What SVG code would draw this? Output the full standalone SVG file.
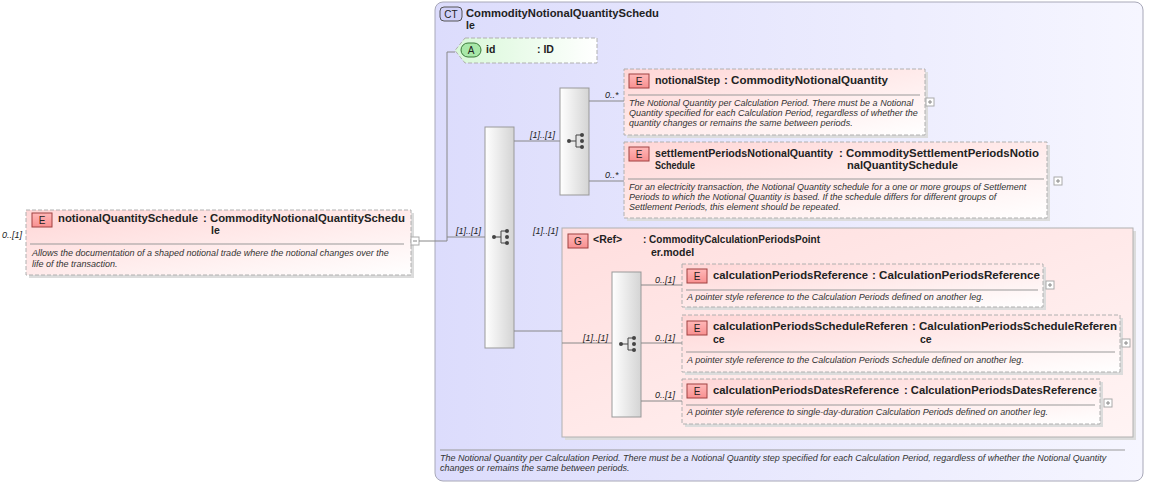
<svg xmlns="http://www.w3.org/2000/svg" width="1149" height="483" viewBox="0 0 1149 483">
<defs>
<linearGradient id="gE" x1="0" y1="0" x2="1" y2="1"><stop offset="0" stop-color="#ffd6d6"/><stop offset="1" stop-color="#ffffff"/></linearGradient>
<linearGradient id="gCT" x1="0" y1="0" x2="1" y2="0"><stop offset="0" stop-color="#dcdcfc"/><stop offset="1" stop-color="#f6f6ff"/></linearGradient>
<linearGradient id="gG" x1="0" y1="0" x2="1" y2="1"><stop offset="0" stop-color="#ffdede"/><stop offset="1" stop-color="#fff4f4"/></linearGradient>
<linearGradient id="gA" x1="0" y1="0" x2="1" y2="0"><stop offset="0" stop-color="#d8f8d8"/><stop offset="1" stop-color="#ffffff"/></linearGradient>
<linearGradient id="gS" x1="0" y1="0" x2="1" y2="0"><stop offset="0" stop-color="#ffffff"/><stop offset="1" stop-color="#d4d4d4"/></linearGradient>
<linearGradient id="gB" x1="0" y1="0" x2="0" y2="1"><stop offset="0" stop-color="#ffb8b8"/><stop offset="1" stop-color="#f89090"/></linearGradient>
<g id="seqIcon"><line x1="-7" y1="0" x2="0" y2="0" stroke="#444"/><line x1="0" y1="-6" x2="0" y2="6" stroke="#444"/><line x1="0" y1="-6" x2="5" y2="-6" stroke="#444"/><line x1="0" y1="6" x2="5" y2="6" stroke="#444"/><circle cx="-7" cy="0" r="2" fill="#444"/><circle cx="6" cy="-6" r="2" fill="#444"/><circle cx="6" cy="0" r="2" fill="#444"/><circle cx="6" cy="6" r="2" fill="#444"/></g>
<g id="plus"><rect x="0" y="0" width="8" height="8" fill="#fff" stroke="#aaa"/><line x1="2" y1="4" x2="6" y2="4" stroke="#888"/><line x1="4" y1="2" x2="4" y2="6" stroke="#888"/></g>
</defs>
<style>
.el{fill:url(#gE);stroke:#b0b0b0;stroke-dasharray:4,2;}
.sh{fill:#dcdcdc;}
.n{font-family:"Liberation Sans",Arial,sans-serif;font-size:10.5px;font-weight:bold;fill:#222;}
.d{font-family:"Liberation Sans",Arial,sans-serif;font-size:9px;font-style:italic;fill:#333;}
.m{font-family:"Liberation Sans",Arial,sans-serif;font-size:9px;font-style:italic;fill:#222;}
.bd{fill:url(#gB);stroke:#a04040;}
.bt{font-family:"Liberation Sans",Arial,sans-serif;font-size:10px;fill:#222;text-anchor:middle;}
.sep{stroke:#999;}
.seq{fill:url(#gS);stroke:#999;}
.c{stroke:#888;fill:none;}
</style>

<g id="ct">
<rect x="435" y="2" width="708" height="479" rx="8" fill="url(#gCT)" stroke="#a8a8b8"/>
<rect x="440" y="7" width="22" height="14" rx="4" fill="#d0d0f8" stroke="#555"/>
<text x="451" y="18" class="bt">CT</text>
<text x="466" y="17" class="n" textLength="193" lengthAdjust="spacingAndGlyphs">CommodityNotionalQuantitySchedu</text>
<text x="466" y="29" class="n">le</text>
<line x1="440" y1="450" x2="1125" y2="450" class="sep"/>
<text x="440" y="461" class="d">The Notional Quantity per Calculation Period. There must be a Notional Quantity step specified for each Calculation Period, regardless of whether the Notional Quantity</text>
<text x="440" y="471" class="d">changes or remains the same between periods.</text>
</g>

<g id="main">
<rect x="29" y="213" width="385" height="65" class="sh"/>
<rect x="26" y="210" width="385" height="65" class="el"/>
<rect x="32" y="213" width="20" height="14" class="bd"/><text x="42" y="224" class="bt">E</text>
<text x="58" y="222" class="n" textLength="140" lengthAdjust="spacingAndGlyphs">notionalQuantitySchedule</text>
<text x="203" y="222" class="n" textLength="202" lengthAdjust="spacingAndGlyphs">: CommodityNotionalQuantitySchedu</text>
<text x="211" y="234" class="n">le</text>
<line x1="30" y1="244" x2="404" y2="244" class="sep"/>
<text x="32" y="256" class="d">Allows the documentation of a shaped notional trade where the notional changes over the</text>
<text x="32" y="267" class="d">life of the transaction.</text>
<rect x="411" y="237" width="8" height="8" fill="#fff" stroke="#aaa"/><line x1="413" y1="241" x2="417" y2="241" stroke="#888"/>
</g>

<g id="attr-id">
<path d="M465,38 H597 V63 H465 L455,50.5 Z" fill="url(#gA)" stroke="#b0b0b0" stroke-dasharray="4,2"/>
<rect x="461" y="43" width="20" height="14" rx="7" fill="#a8e8a8" stroke="#3a7a3a"/><text x="471" y="54" class="bt">A</text>
<text x="486" y="53" class="n">id</text>
<text x="537" y="53" class="n">: ID</text>
</g>

<g id="seq1"><rect x="485" y="127" width="29" height="221" class="seq"/><use href="#seqIcon" x="501" y="237"/></g>
<g id="seq2"><rect x="560" y="88" width="29" height="107" class="seq"/><use href="#seqIcon" x="576" y="141"/></g>

<g id="notionalStep">
<rect x="627" y="72" width="301" height="66" class="sh"/>
<rect x="624" y="69" width="301" height="66" class="el"/>
<rect x="629" y="74" width="20" height="14" class="bd"/><text x="639" y="85" class="bt">E</text>
<text x="655" y="84" class="n" textLength="65" lengthAdjust="spacingAndGlyphs">notionalStep</text>
<text x="724" y="84" class="n" textLength="164" lengthAdjust="spacingAndGlyphs">: CommodityNotionalQuantity</text>
<line x1="628" y1="95" x2="920" y2="95" class="sep"/>
<text x="629" y="106" class="d">The Notional Quantity per Calculation Period. There must be a Notional</text>
<text x="629" y="116" class="d">Quantity specified for each Calculation Period, regardless of whether the</text>
<text x="629" y="126" class="d">quantity changes or remains the same between periods.</text>
<use href="#plus" x="926" y="98"/>
</g>

<g id="settlement">
<rect x="627" y="145" width="423" height="76" class="sh"/>
<rect x="624" y="142" width="423" height="76" class="el"/>
<rect x="629" y="147" width="20" height="14" class="bd"/><text x="639" y="158" class="bt">E</text>
<text x="655" y="157" class="n" textLength="178" lengthAdjust="spacingAndGlyphs">settlementPeriodsNotionalQuantity</text>
<text x="655" y="169" class="n" textLength="40" lengthAdjust="spacingAndGlyphs">Schedule</text>
<text x="839" y="157" class="n" textLength="200" lengthAdjust="spacingAndGlyphs">: CommoditySettlementPeriodsNotio</text>
<text x="847" y="169" class="n" textLength="111" lengthAdjust="spacingAndGlyphs">nalQuantitySchedule</text>
<line x1="628" y1="179" x2="1044" y2="179" class="sep"/>
<text x="629" y="190" class="d">For an electricity transaction, the Notional Quantity schedule for a one or more groups of Settlement</text>
<text x="629" y="200" class="d">Periods to which the Notional Quantity is based. If the schedule differs for different groups of</text>
<text x="629" y="210" class="d">Settlement Periods, this element should be repeated.</text>
<use href="#plus" x="1054" y="177"/>
</g>

<g id="group">
<rect x="565" y="231" width="571" height="209" class="sh"/>
<rect x="562" y="228" width="571" height="209" fill="url(#gG)" stroke="#b0b0b0"/>
<rect x="568" y="234" width="20" height="14" class="bd"/><text x="578" y="245" class="bt">G</text>
<text x="593" y="243" class="n">&lt;Ref&gt;</text>
<text x="643" y="243" class="n" textLength="177" lengthAdjust="spacingAndGlyphs">: CommodityCalculationPeriodsPoint</text>
<text x="651" y="256" class="n">er.model</text>
</g>

<g id="seq3"><rect x="612" y="272" width="29" height="145" class="seq"/><use href="#seqIcon" x="628" y="344"/></g>

<g id="calcRef">
<rect x="685" y="267" width="361" height="43" class="sh"/>
<rect x="682" y="264" width="361" height="43" class="el"/>
<rect x="687" y="269" width="20" height="14" class="bd"/><text x="697" y="280" class="bt">E</text>
<text x="713" y="279" class="n" textLength="155" lengthAdjust="spacingAndGlyphs">calculationPeriodsReference</text>
<text x="872" y="279" class="n" textLength="168" lengthAdjust="spacingAndGlyphs">: CalculationPeriodsReference</text>
<line x1="686" y1="290" x2="1038" y2="290" class="sep"/>
<text x="687" y="300" class="d">A pointer style reference to the Calculation Periods defined on another leg.</text>
<use href="#plus" x="1046" y="281"/>
</g>

<g id="calcSched">
<rect x="685" y="318" width="438" height="57" class="sh"/>
<rect x="682" y="315" width="438" height="57" class="el"/>
<rect x="687" y="321" width="20" height="14" class="bd"/><text x="697" y="332" class="bt">E</text>
<text x="713" y="330" class="n" textLength="195" lengthAdjust="spacingAndGlyphs">calculationPeriodsScheduleReferen</text>
<text x="713" y="343" class="n">ce</text>
<text x="912" y="330" class="n" textLength="205" lengthAdjust="spacingAndGlyphs">: CalculationPeriodsScheduleReferen</text>
<text x="920" y="343" class="n">ce</text>
<line x1="686" y1="352" x2="1115" y2="352" class="sep"/>
<text x="687" y="363" class="d">A pointer style reference to the Calculation Periods Schedule defined on another leg.</text>
<use href="#plus" x="1122" y="339"/>
</g>

<g id="calcDates">
<rect x="685" y="382" width="418" height="45" class="sh"/>
<rect x="682" y="379" width="418" height="45" class="el"/>
<rect x="687" y="384" width="20" height="14" class="bd"/><text x="697" y="395" class="bt">E</text>
<text x="713" y="394" class="n" textLength="186" lengthAdjust="spacingAndGlyphs">calculationPeriodsDatesReference</text>
<text x="904" y="394" class="n" textLength="193" lengthAdjust="spacingAndGlyphs">: CalculationPeriodsDatesReference</text>
<line x1="686" y1="405" x2="1095" y2="405" class="sep"/>
<text x="687" y="415" class="d">A pointer style reference to single-day-duration Calculation Periods defined on another leg.</text>
<use href="#plus" x="1104" y="399"/>
</g>

<g id="connectors">
<polyline class="c" points="419,241 447,241 447,52 455,52"/>
<line class="c" x1="447" y1="237" x2="485" y2="237"/>
<line class="c" x1="514" y1="141" x2="560" y2="141"/>
<line class="c" x1="589" y1="101" x2="624" y2="101"/>
<line class="c" x1="589" y1="181" x2="624" y2="181"/>
<line class="c" x1="514" y1="331" x2="562" y2="331"/>
<line class="c" x1="562" y1="343" x2="612" y2="343"/>
<line class="c" x1="641" y1="285" x2="682" y2="285"/>
<line class="c" x1="641" y1="343" x2="682" y2="343"/>
<line class="c" x1="641" y1="401" x2="682" y2="401"/>
<text x="2" y="238" class="m">0..[1]</text>
<text x="456" y="234" class="m">[1]..[1]</text>
<text x="530" y="138" class="m">[1]..[1]</text>
<text x="605" y="98" class="m">0..*</text>
<text x="605" y="178" class="m">0..*</text>
<text x="533" y="234" class="m">[1]..[1]</text>
<text x="583" y="341" class="m">[1]..[1]</text>
<text x="655" y="283" class="m">0..[1]</text>
<text x="655" y="341" class="m">0..[1]</text>
<text x="655" y="398" class="m">0..[1]</text>
</g>
</svg>
